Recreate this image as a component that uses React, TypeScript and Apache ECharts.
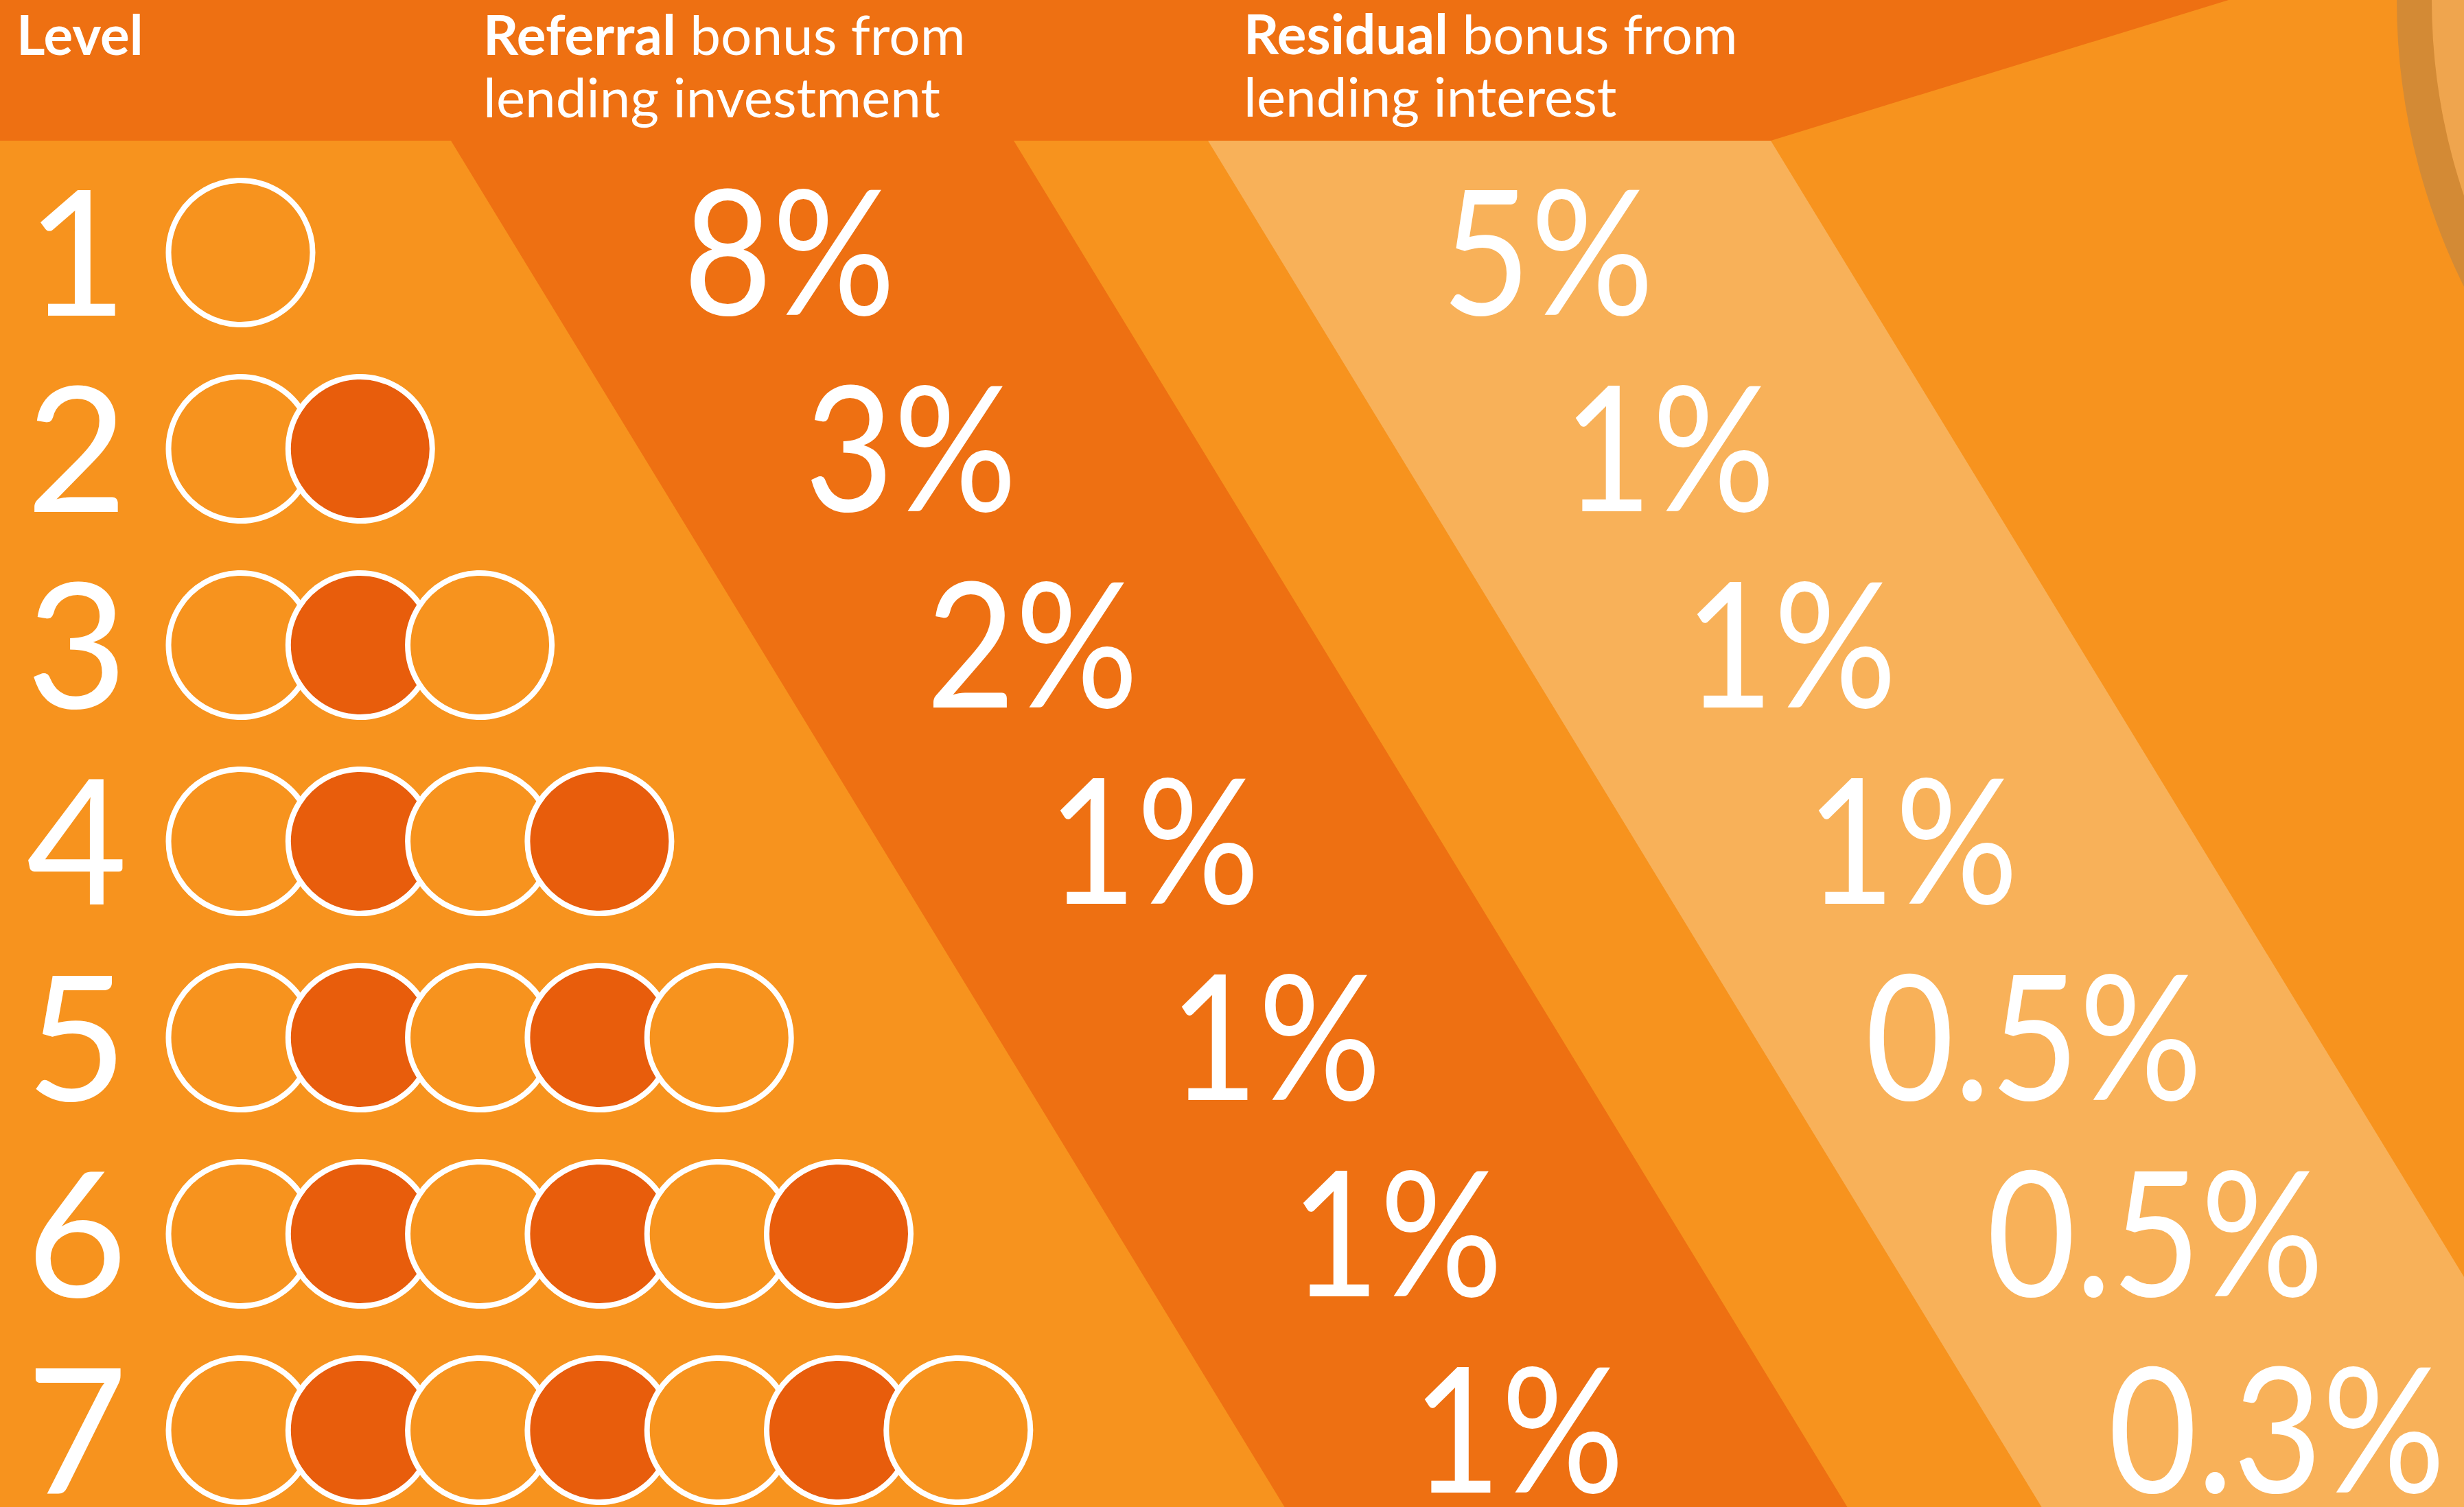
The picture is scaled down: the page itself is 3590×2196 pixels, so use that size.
import React, { useEffect, useRef } from "react";
import * as echarts from "echarts";

// ---- data ----
const levels = [1, 2, 3, 4, 5, 6, 7];
const referralBonus = [8, 3, 2, 1, 1, 1, 1];
const residualBonus = [5, 1, 1, 1, 0.5, 0.5, 0.3];
const headerLevel = "Level";
const headerReferral = ["Referral", " bonus from", "lending investment"];
const headerResidual = ["Residual", " bonus from", "lending interest"];

// ---- layout ----
const W = 3590;
const H = 2196;
const HEADER_H = 205;
const ROW0 = 368;
const ROW_STEP = 286;
const CIRCLE_X0 = 350.5;
const CIRCLE_STEP = 174.3;
const LEVEL_X = 112;
const REF_X0 = 1150;
const RES_X0 = 2255;
const TEXT_STEP = 177;
const SLOPE = 0.61;

const C_BG = "#F7931E";
const C_DARK = "#EE7012";
const C_FILL = "#E85D0C";
const C_LIGHT = "#F8B159";
const FONT = "Lato, 'Open Sans', sans-serif";

export default function App() {
  const ref = useRef<HTMLDivElement>(null);
  useEffect(() => {
    if (!ref.current) return;
    const chart = echarts.init(ref.current, undefined, { renderer: "svg" });

    const circleData: any[] = [];
    levels.forEach((lv, i) => {
      for (let k = 0; k < lv; k++) {
        circleData.push({
          value: [CIRCLE_X0 + CIRCLE_STEP * k, ROW0 + ROW_STEP * i],
          itemStyle: { color: k % 2 === 1 ? C_FILL : C_BG },
        });
      }
    });

    const levelTexts = levels.map((lv) => String(lv));
    const refTexts = referralBonus.map((v) => v + "%");
    const resTexts = residualBonus.map((v) => v + "%");

    const textSeries = (x0: number, step: number, texts: string[], scaleX: number) => ({
      type: "custom",
      silent: true,
      z: 5,
      data: texts.map((_, i) => [x0 + step * i, ROW0 + ROW_STEP * i]),
      renderItem: (params: any, api: any) => {
        const p = api.coord([api.value(0), api.value(1)]);
        return {
          type: "text",
          x: p[0],
          y: p[1] - 7,
          scaleX,
          style: {
            text: texts[params.dataIndex],
            fill: "#ffffff",
            fontSize: 254,
            fontFamily: FONT,
            fontWeight: "normal",
            align: "center",
            verticalAlign: "middle",
          },
        };
      },
    });

    const dy = H - HEADER_H;
    const stripe = (l: number, r: number, color: string) => ({
      type: "polygon",
      shape: {
        points: [
          [l, HEADER_H],
          [r, HEADER_H],
          [r + SLOPE * dy, H],
          [l + SLOPE * dy, H],
        ],
      },
      style: { fill: color },
      silent: true,
    });

    const richStyles = {
      b: { fontSize: 80, fontWeight: "bold", fontFamily: FONT, fill: "#fff", color: "#fff", lineHeight: 91 },
      r: { fontSize: 80, fontWeight: "normal", fontFamily: FONT, fill: "#fff", color: "#fff", lineHeight: 91 },
    };

    const headerText = (x: number, y: number, parts: string[]) => ({
      type: "text",
      x,
      y,
      silent: true,
      style: {
        text: `{b|${parts[0]}}{r|${parts[1]}}\n{r|${parts[2]}}`,
        fill: "#fff",
        verticalAlign: "top",
        align: "left",
        rich: richStyles,
      },
    });

    chart.setOption({
      animation: false,
      backgroundColor: C_BG,
      grid: { left: 0, right: 0, top: 0, bottom: 0 },
      xAxis: { type: "value", min: 0, max: W, show: false },
      yAxis: { type: "value", min: 0, max: H, inverse: true, show: false },
      graphic: [
        stripe(657, 1477, C_DARK),
        stripe(1760, 2580, C_LIGHT),
        {
          type: "polygon",
          shape: { points: [[0, 0], [3247, 0], [2580, HEADER_H], [0, HEADER_H]] },
          style: { fill: C_DARK },
          silent: true,
        },
        { type: "circle", shape: { cx: 4432, cy: 0, r: 940 }, style: { fill: "#D38A35" }, silent: true },
        { type: "circle", shape: { cx: 4432, cy: 0, r: 889 }, style: { fill: "#EFA54E" }, silent: true },
        {
          type: "text",
          x: 24,
          y: 3,
          silent: true,
          style: {
            text: `{b|${headerLevel}}`,
            fill: "#fff",
            verticalAlign: "top",
            align: "left",
            rich: richStyles,
          },
        },
        headerText(704, 3, headerReferral),
        headerText(1812, 2, headerResidual),
      ],
      series: [
        {
          type: "scatter",
          symbol: "circle",
          symbolSize: 210,
          silent: true,
          itemStyle: { borderColor: "#ffffff", borderWidth: 8, opacity: 1 },
          data: circleData,
          z: 3,
        },
        textSeries(LEVEL_X, 0, levelTexts, 1),
        textSeries(REF_X0, TEXT_STEP, refTexts, 0.88),
        textSeries(RES_X0, TEXT_STEP, resTexts, 0.88),
      ],
    });
    return () => chart.dispose();
  }, []);
  return (
    <div
      ref={ref}
      style={{ position: "fixed", left: 0, top: 0, width: W, height: H }}
    />
  );
}
